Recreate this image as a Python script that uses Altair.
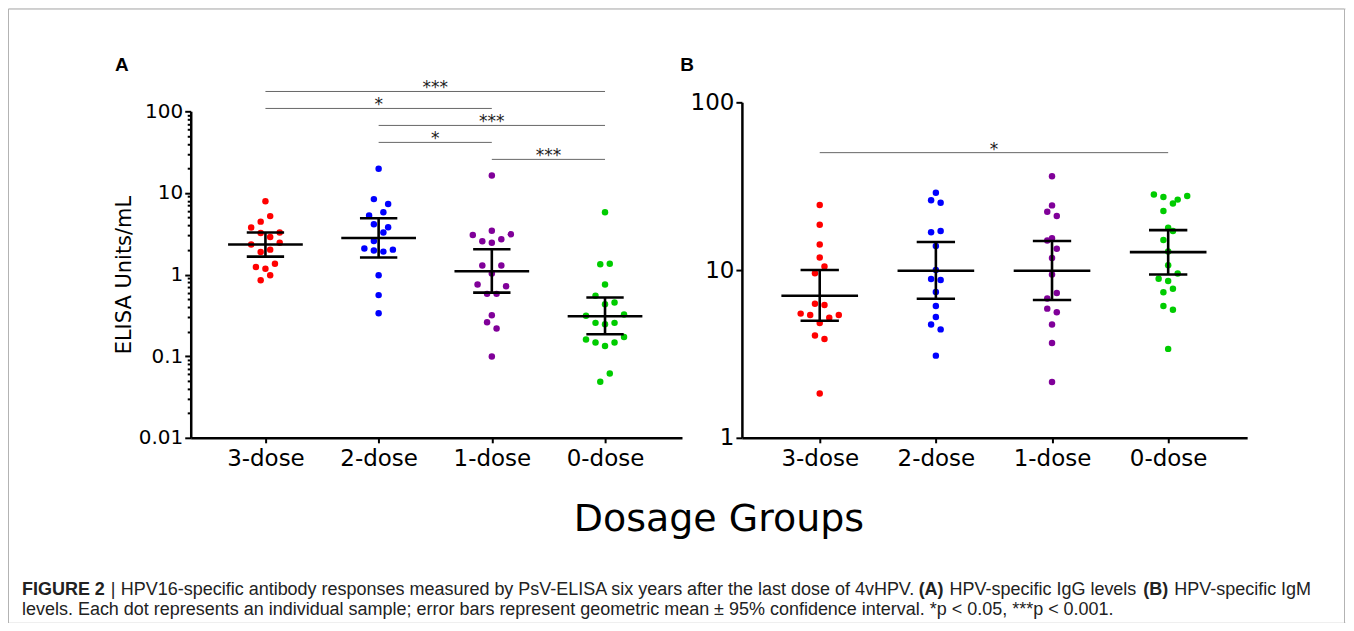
import altair as alt
import pandas as pd

# ---------------- data ----------------
groups = ["3-dose", "2-dose", "1-dose", "0-dose"]
colors = ["#ff0000", "#0000ff", "#800099", "#00cc00"]

# Panel A: HPV-specific IgG (ELISA Units/mL)
a_3 = [7.9, 5.2, 4.45, 3.76, 3.27, 3.23, 2.89, 2.33, 2.46, 2.02, 1.89, 1.36, 1.24, 1.18, 0.98, 0.85]
a_3_slot = [0, 1, -1, -3, 3, -1, 1, -3, 3, 1, -1, 2, -2, 0, 1, -1]
a_2 = [19.8, 8.4, 7.3, 5.8, 5.3, 4.13, 3.8, 3.27, 2.58, 2.08, 1.97, 1.91, 2.02, 0.98, 0.56, 0.336]
a_2_slot = [0, -1, 2, 1, -2, -1, 2, 1, -1, -3, -1, 1, 3, 0, 0, 0]
a_1 = [16.4, 3.05, 3.45, 3.11, 2.56, 2.46, 2.7, 1.29, 1.29, 1.03, 0.755, 0.72, 0.58, 0.58,
       0.318, 0.26, 0.218, 0.099]
a_1_slot = [0, -4, 0, 4, -2, 0, 2, -2, 2, 0, -3, 3, -1, 1, 0, -1, 1, 0]
a_0 = [5.8, 1.34, 1.36, 0.755, 0.55, 0.433, 0.454, 0.312, 0.324, 0.256, 0.247, 0.256,
       0.16, 0.147, 0.133, 0.147, 0.172, 0.0485, 0.0614]
a_0_slot = [0, -1, 1, 0, -2, 0, 2, -4, 4, -2, 0, 2, -4, -2, 0, 2, 4, -1, 1]
a_gm = [2.33, 2.81, 1.10, 0.309]
a_lo = [1.66, 1.62, 0.60, 0.186]
a_hi = [3.27, 4.9, 2.04, 0.523]
a_sig_from = [1, 1, 2, 2, 3]
a_sig_to = [4, 3, 4, 3, 4]
a_sig_label = ["***", "*", "***", "*", "***"]
a_sig_level = [0, 1, 2, 3, 4]

# Panel B: HPV-specific IgM
b_3 = [24.4, 18.6, 14.2, 11.9, 10.5, 9.56, 6.29, 6.2, 5.5, 5.4, 5.2, 5.4, 4.84, 4.07, 3.88, 1.84]
b_3_slot = [0, 0, 0, 0, 1, -1, -1, 1, -4, -2, 2, 4, 0, -1, 1, 0]
b_2 = [28.9, 26.1, 25.2, 16.8, 17.1, 13.9, 10.0, 8.84, 8.72, 7.4, 6.1, 5.25, 4.73, 4.43, 3.09]
b_2_slot = [0, -1, 1, -1, 1, 0, 0, -1, 1, 0, 0, 0, -1, 1, 0]
b_1 = [36.3, 24.3, 22.3, 21.0, 15.0, 15.5, 13.4, 11.8, 9.4, 7.3, 6.76, 5.89, 5.6, 4.73, 3.68, 2.15]
b_1_slot = [0, 0, -1, 1, -1, 0, 1, 0, 0, 1, -1, -1, 1, 0, 0, 0]
b_0 = [28.2, 27.3, 26.3, 27.6, 24.9, 22.5, 17.9, 17.1, 15.1, 12.9, 10.7, 9.55, 8.88, 8.6,
       7.74, 7.37, 6.1, 5.8, 3.39]
b_0_slot = [-3, -1, 2, 4, 1, -1, 0, 1, -1, 0, 0, 2, -2, 0, 1, -1, -1, 1, 0]
b_gm = [7.03, 9.9, 9.9, 12.8]
b_lo = [4.99, 6.75, 6.63, 9.4]
b_hi = [10.0, 14.7, 14.9, 17.3]
b_sig_from = [1]
b_sig_to = [4]
b_sig_label = ["*"]
b_sig_level = [0]

caption_segments = [
    ("FIGURE 2", 14, "bold", 0),
    ("|", 103, "normal", 0),
    ("HPV16-specific antibody responses measured by PsV-ELISA six years after the last dose of 4vHPV.", 113, "normal", 0),
    ("(A)", 912, "bold", 0),
    ("HPV-specific IgG levels", 943, "normal", 0),
    ("(B)", 1137, "bold", 0),
    ("HPV-specific IgM", 1168, "normal", 0),
    ("levels. Each dot represents an individual sample; error bars represent geometric mean \u00b1 95% confidence interval. *p < 0.05, ***p < 0.001.", 14, "normal", 1),
]

# ---------------- layout ----------------
W, H = 1340, 615
FONT = "DejaVu Sans"
CAP_FONT = "Liberation Sans"


def points_frame(vals_list, slot_list):
    rows = []
    for i, (vals, slots) in enumerate(zip(vals_list, slot_list)):
        for v, s in zip(vals, slots):
            rows.append({"group": groups[i], "idx": i + 1, "value": v, "slot": s})
    return pd.DataFrame(rows)


def panel(vals_list, slot_list, gm, lo, hi, sig_from, sig_to, sig_label, sig_level,
          xdomain, xrange, ydomain, yrange, ymajor, yminor, ylabel_size, ytitle,
          sig_top, sig_step, slot_w):
    pts = points_frame(vals_list, slot_list)
    stats = pd.DataFrame({"group": groups, "idx": [1, 2, 3, 4], "gm": gm, "lo": lo, "hi": hi})
    sig = pd.DataFrame({"a": sig_from, "b": sig_to, "label": sig_label, "level": sig_level})

    is_major = "abs(log(datum.value)/LN10 - round(log(datum.value)/LN10)) < 0.001"
    yaxis = alt.Axis(
        orient="left", offset=-xrange[0], values=ymajor + yminor,
        labelExpr=f"({is_major}) ? format(datum.value, '~g') : ''",
        tickSize={"condition": {"test": is_major, "value": 6}, "value": 3.5},
        tickWidth=2, tickColor="black", domainColor="black", domainWidth=2.5,
        labelFont=FONT, labelFontSize=ylabel_size, labelColor="black", labelPadding=2,
        grid=False, title=ytitle, titleFont=FONT, titleFontSize=21,
        titleFontWeight="normal", titleColor="black", titlePadding=4,
    )
    labels_js = "[" + ",".join(f"'{g}'" for g in groups) + "]"
    xaxis = alt.Axis(
        orient="bottom", offset=yrange[0] - H, values=[1, 2, 3, 4],
        labelExpr=f"{labels_js}[datum.value - 1]",
        tickSize=5, tickWidth=2, tickColor="black", domainColor="black", domainWidth=2.5,
        labelFont=FONT, labelFontSize=23, labelColor="black", labelPadding=5,
        grid=False, title=None,
    )
    xs = alt.Scale(domain=xdomain, range=xrange, nice=False, zero=False)
    ys = alt.Scale(type="log", domain=ydomain, range=yrange, nice=False)

    color = alt.Color("group:N", scale=alt.Scale(domain=groups, range=colors), legend=None)

    points = alt.Chart(pts).mark_circle(size=42, opacity=1).transform_calculate(
        xpos=f"datum.idx + datum.slot * {slot_w}"
    ).encode(
        x=alt.X("xpos:Q", scale=xs, axis=xaxis),
        y=alt.Y("value:Q", scale=ys, axis=yaxis),
        color=color,
    )

    base = alt.Chart(stats).transform_calculate(
        m1="datum.idx - 0.33", m2="datum.idx + 0.33",
        c1="datum.idx - 0.165", c2="datum.idx + 0.165",
    )
    rule_kw = dict(color="black", strokeWidth=2.6)
    mean_line = base.mark_rule(**rule_kw).encode(
        x=alt.X("m1:Q", scale=xs, axis=xaxis), x2="m2:Q",
        y=alt.Y("gm:Q", scale=ys, axis=yaxis))
    cap_hi = base.mark_rule(**rule_kw).encode(
        x=alt.X("c1:Q", scale=xs, axis=xaxis), x2="c2:Q",
        y=alt.Y("hi:Q", scale=ys, axis=yaxis))
    cap_lo = base.mark_rule(**rule_kw).encode(
        x=alt.X("c1:Q", scale=xs, axis=xaxis), x2="c2:Q",
        y=alt.Y("lo:Q", scale=ys, axis=yaxis))
    vline = base.mark_rule(**rule_kw).encode(
        x=alt.X("idx:Q", scale=xs, axis=xaxis),
        y=alt.Y("lo:Q", scale=ys, axis=yaxis), y2="hi:Q")

    sig_base = alt.Chart(sig).transform_calculate(
        h=f"pow(10, {sig_top} - {sig_step} * datum.level)",
        mid="(datum.a + datum.b) / 2",
    )
    sig_rules = sig_base.mark_rule(color="#666666", strokeWidth=1).encode(
        x=alt.X("a:Q", scale=xs, axis=xaxis), x2="b:Q",
        y=alt.Y("h:Q", scale=ys, axis=yaxis))
    sig_text = sig_base.mark_text(font=FONT, fontSize=17, color="#222222",
                                  baseline="alphabetic", dy=2).encode(
        x=alt.X("mid:Q", scale=xs, axis=xaxis),
        y=alt.Y("h:Q", scale=ys, axis=yaxis), text="label:N")

    return alt.layer(sig_rules, sig_text, points, vline, cap_hi, cap_lo, mean_line)


panel_a = panel(
    [a_3, a_2, a_1, a_0], [a_3_slot, a_2_slot, a_1_slot, a_0_slot],
    a_gm, a_lo, a_hi, a_sig_from, a_sig_to, a_sig_label, a_sig_level,
    xdomain=[0.34, 4.68], xrange=[183, 675], ydomain=[0.01, 100], yrange=[430, 103],
    ymajor=[0.01, 0.1, 1, 10, 100],
    yminor=[m * 10.0 ** e for e in (-2, -1, 0, 1) for m in range(2, 10)],
    ylabel_size=20, ytitle="ELISA Units/mL", sig_top=2.243, sig_step=0.208, slot_w=0.042,
)
panel_b = panel(
    [b_3, b_2, b_1, b_0], [b_3_slot, b_2_slot, b_1_slot, b_0_slot],
    b_gm, b_lo, b_hi, b_sig_from, b_sig_to, b_sig_label, b_sig_level,
    xdomain=[0.33, 4.68], xrange=[735, 1241], ydomain=[1, 100], yrange=[430, 94],
    ymajor=[1, 10, 100], yminor=[],
    ylabel_size=23, ytitle=None, sig_top=1.70, sig_step=0.1, slot_w=0.041,
)

one = pd.DataFrame({"k": [0]})
border = alt.Chart(one).mark_rect(fill="white", fillOpacity=0, stroke="#b3b3b3",
                                  strokeWidth=1).encode(
    x=alt.value(0.5), x2=alt.value(1338.5), y=alt.value(0.5), y2=alt.value(H + 20))

letters = alt.Chart(pd.DataFrame({"t": ["A", "B"], "px": [114, 680]})).mark_text(
    font=CAP_FONT, fontSize=19, fontWeight="bold", color="black", align="center",
    baseline="alphabetic").encode(
    x=alt.X("px:Q", scale=alt.Scale(domain=[0, W], range=[0, W]), axis=None),
    y=alt.value(63), text="t:N")

xtitle = alt.Chart(pd.DataFrame({"t": ["Dosage Groups"]})).mark_text(
    font=FONT, fontSize=38, color="black", align="center", baseline="alphabetic").encode(
    x=alt.value(712), y=alt.value(523), text="t:N")

cap_df = pd.DataFrame({
    "t": [s[0] for s in caption_segments],
    "px": [s[1] for s in caption_segments],
    "w": [s[2] for s in caption_segments],
    "line": [s[3] for s in caption_segments],
})
caption_layers = []
for wgt in ["normal", "bold"]:
    caption_layers.append(
        alt.Chart(cap_df).transform_filter(f"datum.w == '{wgt}'").mark_text(
            font=CAP_FONT, fontSize=18, fontWeight=wgt, color="#222222", align="left",
            baseline="alphabetic").encode(
            x=alt.X("px:Q", scale=alt.Scale(domain=[0, W], range=[0, W]), axis=None),
            y=alt.Y("line:Q", scale=alt.Scale(domain=[0, 1], range=[587, 607]), axis=None),
            text="t:N")
    )

chart = alt.layer(
    border, panel_a, panel_b, letters, xtitle, *caption_layers
).resolve_scale(
    x="independent", y="independent"
).resolve_axis(
    x="independent", y="independent"
).properties(
    width=W, height=H, padding=0, autosize=alt.AutoSizeParams(type="none")
).configure_view(stroke=None).configure(background="white")

chart.save("out.html", embed_options={"renderer": "svg", "actions": False})
